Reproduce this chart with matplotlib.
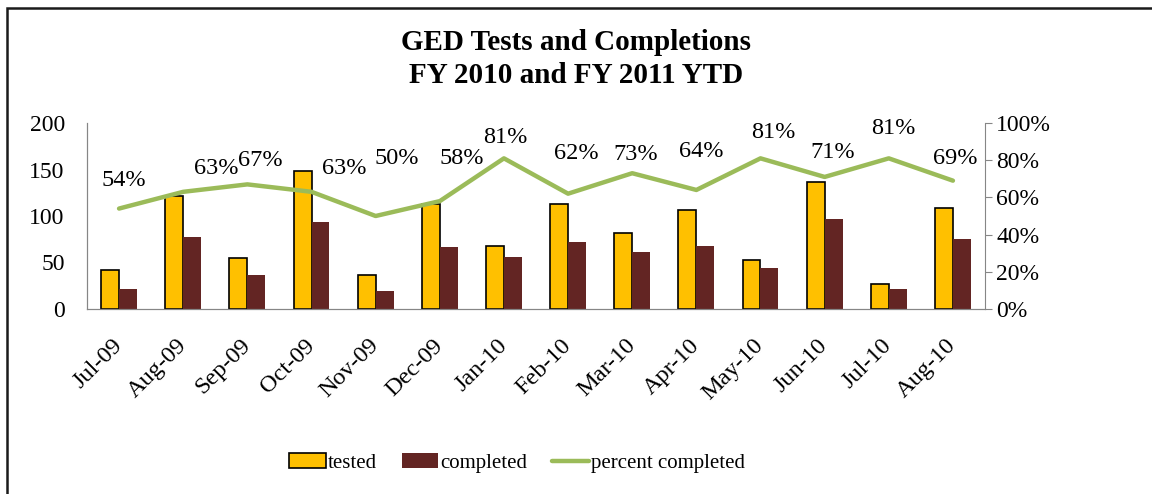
import numpy as np
import matplotlib.pyplot as plt
from matplotlib.patches import Rectangle

# GED tests and completions per month
months = ['Jul-09', 'Aug-09', 'Sep-09', 'Oct-09', 'Nov-09', 'Dec-09', 'Jan-10',
          'Feb-10', 'Mar-10', 'Apr-10', 'May-10', 'Jun-10', 'Jul-10', 'Aug-10']
tested = [42, 122, 55, 148, 37, 113, 68, 113, 82, 106, 53, 137, 27, 109]
completed = [22, 77, 37, 94, 19, 67, 56, 72, 61, 68, 44, 97, 22, 75]
pct_completed = [54, 63, 67, 63, 50, 58, 81, 62, 73, 64, 81, 71, 81, 69]

# label offsets in pixels (dx, dy) as placed in the original
label_offsets = [(5, 28), (33, 23), (13, 24), (33, 23), (21, 58), (22, 43), (1, 21),
                 (8, 40), (3, 19), (5, 38), (13, 26), (8, 24), (5, 30), (2, 22)]

plt.rcParams['font.family'] = ['Liberation Serif', 'DejaVu Serif']

fig = plt.figure(figsize=(11.52, 4.94), dpi=100)
W, H = 1152, 494
ax = fig.add_axes([87 / W, 1 - 309 / H, (985 - 87) / W, (309 - 123) / H])
ax2 = ax.twinx()

x = np.arange(len(months))
bw = 0.28
ax.bar(x - bw / 2, tested, bw, color='#FFC000', edgecolor='black', linewidth=1.2,
       label='tested', zorder=2)
ax.bar(x + bw / 2, completed, bw, color='#632523', label='completed', zorder=2)

pct = np.array(pct_completed) / 100
ax2.plot(x, pct, color='#9BBB59', linewidth=3.2, label='percent completed',
         solid_capstyle='round')
for i, v in enumerate(pct_completed):
    dx, dy = label_offsets[i]
    ax2.annotate(f'{v}%', (x[i], pct[i]), xytext=(dx, dy), textcoords='offset pixels',
                 ha='center', va='center', fontsize=17.5)

ax.set_xlim(-0.5, len(months) - 0.5)
ax.set_ylim(0, 200)
ax.set_yticks([0, 50, 100, 150, 200])
ax2.set_ylim(0, 1)
ax2.set_yticks([0, 0.2, 0.4, 0.6, 0.8, 1.0])
ax2.set_yticklabels(['0%', '20%', '40%', '60%', '80%', '100%'])

ax.set_xticks(x)
ax.set_xticklabels(months, rotation=45, ha='right', va='center', rotation_mode='anchor')
ax.tick_params(axis='x', length=0, labelsize=17.5, pad=24)
ax.tick_params(axis='y', length=0, labelsize=17, pad=16)
ax2.tick_params(axis='y', length=5, color='#868686', labelsize=17, pad=3)

for a in (ax, ax2):
    a.spines['top'].set_visible(False)
    for s in ('left', 'right', 'bottom'):
        a.spines[s].set_color('#868686')
ax.spines['right'].set_visible(False)

fig.text(0.5, 1 - 59 / H, 'GED Tests and Completions\nFY 2010 and FY 2011 YTD',
         ha='center', va='center', fontsize=21, fontweight='bold', linespacing=1.25)

h1, l1 = ax.get_legend_handles_labels()
h2, l2 = ax2.get_legend_handles_labels()
fig.legend(h1 + h2, l1 + l2, loc='center', bbox_to_anchor=(517 / W, 1 - 463 / H),
           ncol=3, frameon=False, fontsize=15, handlelength=1.75, handletextpad=0.1,
           columnspacing=1.2)

fig.patches.append(Rectangle((7 / W, -0.05), 1.0, 1 - 8 / H + 0.05,
                             transform=fig.transFigure, fill=False,
                             edgecolor='#1a1a1a', linewidth=1.8))

fig.savefig('out.png', dpi=100)
